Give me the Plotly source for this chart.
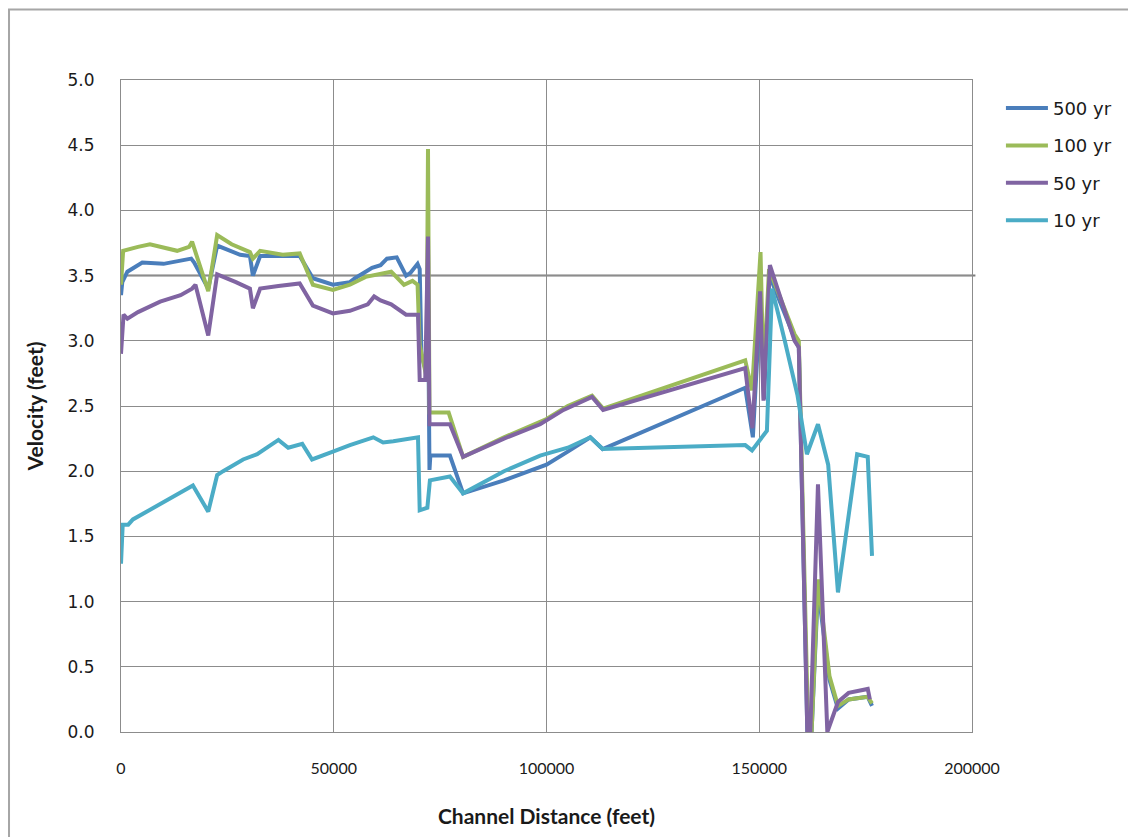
import plotly.graph_objects as go

# ---- data (channel distance in feet, velocity in feet) ----
dist_500 = [0, 300, 1500, 5000, 10000, 16500, 17200, 20500, 22600, 28000, 30300, 31000, 32700,
            42000, 45100, 49800, 53800, 55000, 57500, 59000, 61000, 62500, 64800, 67000, 68000,
            69700, 70200, 70600, 71800, 72150, 72500, 72700, 77300, 80400, 90000, 100000, 105000,
            110300, 113200, 146700, 148500, 150300, 151100, 152400, 158300, 159300, 161300,
            162300, 163800, 166500, 168500, 171000, 175500, 176500]
vel_500 = [3.35, 3.45, 3.53, 3.60, 3.59, 3.63, 3.60, 3.40, 3.73, 3.66, 3.65, 3.50, 3.65,
           3.65, 3.48, 3.43, 3.45, 3.48, 3.53, 3.56, 3.58, 3.63, 3.64, 3.50, 3.52,
           3.59, 3.55, 2.90, 2.75, 3.35, 2.01, 2.12, 2.12, 1.83, 1.93, 2.05, 2.15,
           2.26, 2.17, 2.64, 2.26, 3.35, 2.55, 3.50, 3.02, 2.95, 0.0,
           0.0, 1.10, 0.40, 0.18, 0.25, 0.27, 0.20]

dist_100 = [0, 500, 4000, 6800, 13200, 16000, 16700, 17500, 20500, 22600, 26000, 30300, 31000,
            32700, 38000, 42000, 45100, 49800, 53800, 57500, 60000, 63500, 66500, 68500, 69700,
            70200, 71800, 72150, 72500, 77000, 80400, 90000, 100000, 105000, 110700, 113300,
            146700, 148300, 150300, 151000, 152300, 158300, 159300, 161500, 162300, 163800,
            166500, 168500, 171000, 175500, 176500]
vel_100 = [3.43, 3.69, 3.72, 3.74, 3.69, 3.72, 3.76, 3.68, 3.38, 3.81, 3.74, 3.68, 3.63,
           3.69, 3.66, 3.67, 3.43, 3.39, 3.43, 3.49, 3.51, 3.53, 3.43, 3.46, 3.43,
           2.97, 2.72, 4.47, 2.45, 2.45, 2.11, 2.26, 2.40, 2.50, 2.58, 2.48,
           2.85, 2.62, 3.68, 2.70, 3.55, 3.05, 3.00, 0.0, 0.0, 1.17,
           0.43, 0.20, 0.25, 0.27, 0.22]

dist_50 = [0, 600, 1500, 4000, 9200, 14000, 16700, 17500, 20500, 22600, 27000, 30300, 31000,
           32700, 37000, 42000, 45100, 49800, 53800, 58000, 59500, 61000, 63500, 67000, 69800,
           70200, 71500, 72150, 72500, 77300, 80400, 90000, 98500, 104000, 110700, 113300,
           146700, 148400, 150200, 151000, 152500, 158300, 159300, 161300, 162000, 163800,
           166000, 168500, 171000, 175500, 176000]
vel_50 = [2.90, 3.20, 3.17, 3.22, 3.30, 3.35, 3.40, 3.43, 3.04, 3.51, 3.45, 3.40, 3.25,
          3.40, 3.42, 3.44, 3.27, 3.21, 3.23, 3.28, 3.34, 3.31, 3.28, 3.20, 3.20,
          2.70, 2.70, 3.80, 2.36, 2.36, 2.11, 2.25, 2.36, 2.47, 2.57, 2.47,
          2.79, 2.33, 3.38, 2.54, 3.58, 3.00, 2.95, 0.0, 0.0, 1.90,
          0.0, 0.23, 0.30, 0.33, 0.25]

dist_10 = [0, 400, 1700, 2800, 16900, 20500, 22600, 24000, 28700, 32000, 37000, 39300, 42600,
           44900, 49800, 53800, 59300, 61600, 64000, 69800, 70200, 72000, 72600, 77300, 80400,
           90000, 98500, 105000, 110300, 113200, 146700, 148300, 151800, 153000, 156000,
           159000, 161200, 163800, 166200, 168500, 173000, 175500, 176500]
vel_10 = [1.29, 1.59, 1.59, 1.63, 1.89, 1.69, 1.97, 2.00, 2.09, 2.13, 2.24, 2.18, 2.21,
          2.09, 2.15, 2.20, 2.26, 2.22, 2.23, 2.26, 1.70, 1.72, 1.93, 1.96, 1.83,
          2.00, 2.12, 2.18, 2.26, 2.17, 2.20, 2.16, 2.31, 3.40, 3.00,
          2.58, 2.13, 2.36, 2.05, 1.07, 2.13, 2.11, 1.35]

series_names = ["500 yr", "100 yr", "50 yr", "10 yr"]
series_colors = ["#4A7EBB", "#9BBB59", "#8064A2", "#4BACC6"]
x_ticks = [0, 50000, 100000, 150000, 200000]
y_ticks = [0.0, 0.5, 1.0, 1.5, 2.0, 2.5, 3.0, 3.5, 4.0, 4.5, 5.0]
reference_velocity = 3.5

fig = go.Figure()
for name, color, xs, ys in zip(series_names, series_colors,
                               [dist_500, dist_100, dist_50, dist_10],
                               [vel_500, vel_100, vel_50, vel_10]):
    fig.add_trace(go.Scatter(x=xs, y=ys, mode="lines", name=name, legendgroup=name,
                             line=dict(color=color, width=4)))

grid = "#8c8c8c"
narrow = "Liberation Sans Narrow, Lato"
fig.update_layout(
    width=1128, height=829,
    margin=dict(l=113, r=164, t=72, b=100),
    paper_bgcolor="white", plot_bgcolor="white",
    legend=dict(x=1.034, y=0.985, xanchor="left", yanchor="top",
                font=dict(family="DejaVu Sans", size=18, color="#1a1a1a"),
                tracegroupgap=11, itemwidth=42, bgcolor="rgba(0,0,0,0)"),
    xaxis=dict(range=[0, 200000], tickvals=x_ticks, ticktext=[str(v) for v in x_ticks],
               showgrid=True, gridcolor=grid, gridwidth=1, zeroline=False,
               showline=True, linecolor=grid, mirror=True, ticks="",
               ticklabelstandoff=22,
               tickfont=dict(family=narrow, size=16, color="#1a1a1a"),
               title=dict(text="<b>Channel Distance (feet)</b>", standoff=33,
                          font=dict(family=narrow, size=21, color="#1a1a1a"))),
    yaxis=dict(range=[0, 5], tickvals=y_ticks, tickformat=".1f",
               showgrid=True, gridcolor=grid, gridwidth=1, zeroline=False,
               showline=True, linecolor=grid, mirror=True, ticks="",
               ticklabelstandoff=22,
               tickfont=dict(family="DejaVu Sans", size=17, color="#1a1a1a"),
               title=dict(text="<b>Velocity (feet)</b>", standoff=18,
                          font=dict(family=narrow, size=21, color="#1a1a1a"))),
    shapes=[
        dict(type="rect", xref="paper", yref="paper", x0=-0.1316, x1=1.25, y0=-0.2, y1=1.108,
             line=dict(color="#a6a6a6", width=2), layer="below"),
        dict(type="line", xref="paper", yref="y", x0=0, x1=1.004,
             y0=reference_velocity, y1=reference_velocity,
             line=dict(color="#7a7a7a", width=2), layer="below"),
    ],
)

fig.write_html("out.html")
